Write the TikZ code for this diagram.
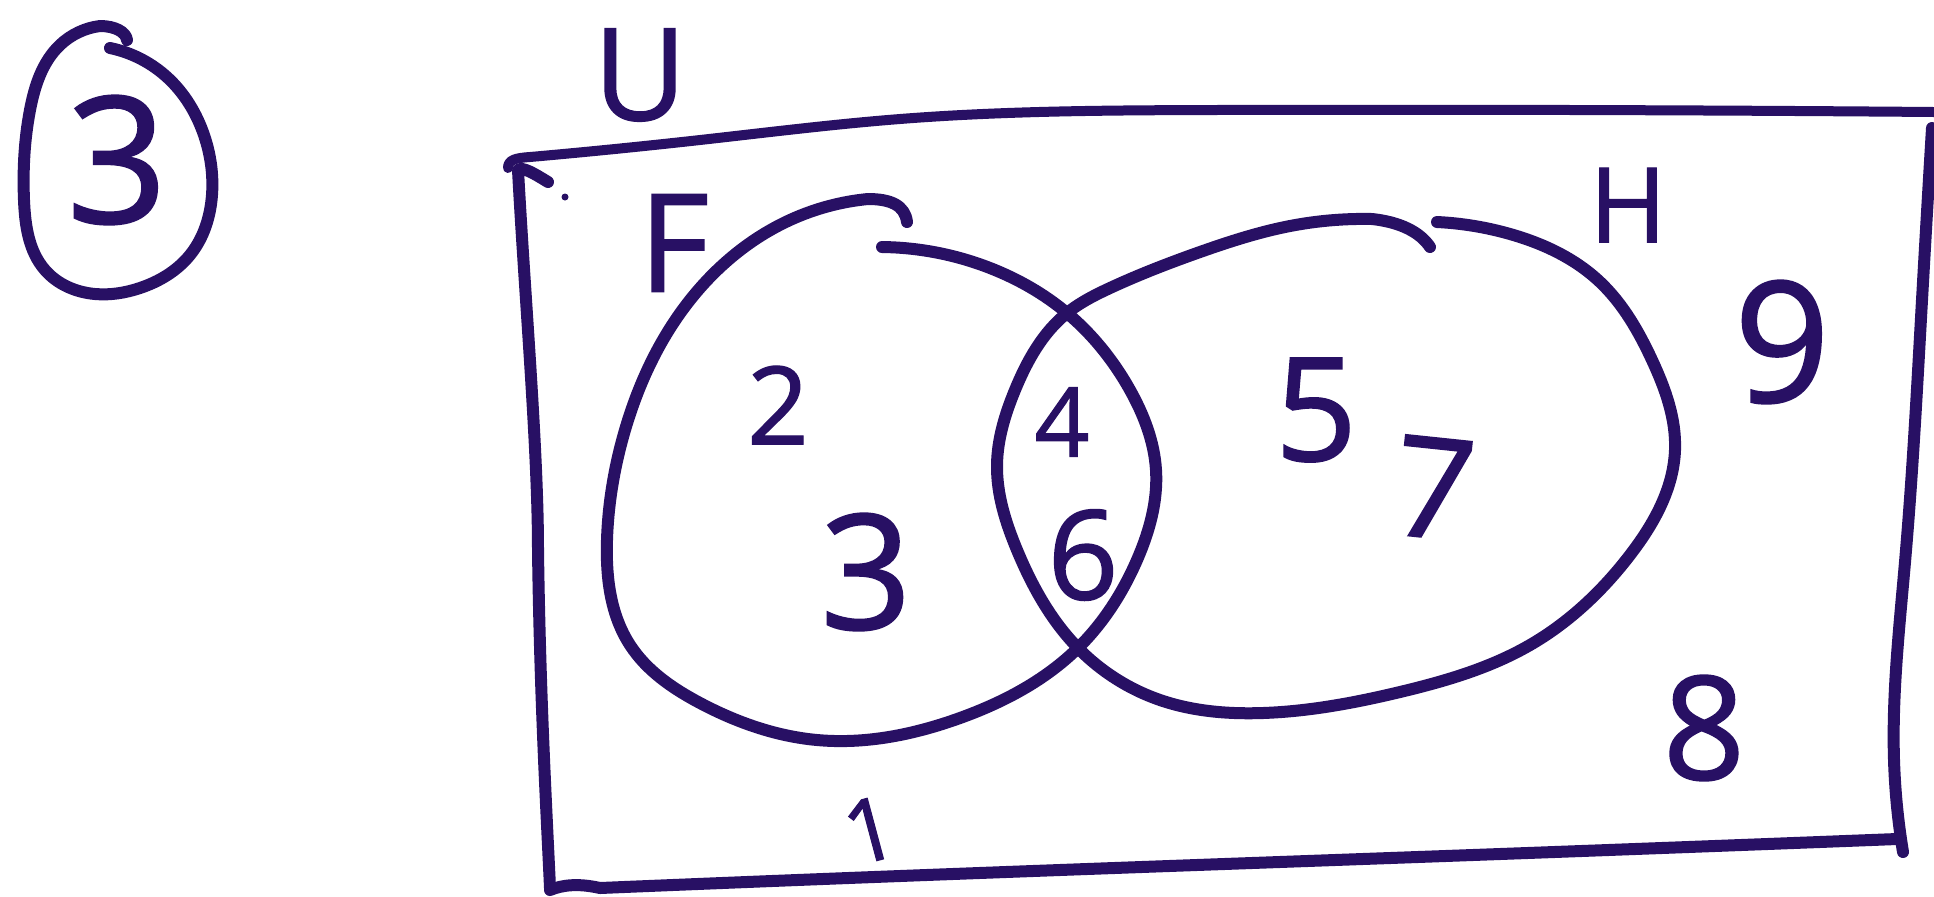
\documentclass[tikz,border=0pt]{standalone}
\usepackage{fontspec}
\setmainfont{Open Sans}
\newfontfamily\handfont{Open Sans}[FakeBold=1.2]
\usetikzlibrary{hobby}
\definecolor{ink}{RGB}{40,16,100}
\newcommand\hsz[1]{\fontsize{#1}{#1}\selectfont}
\begin{document}
\begin{tikzpicture}[x=0.5pt,y=-0.5pt,
  pen/.style={draw=ink,line width=6pt,line cap=round,line join=round},
  lbl/.style={text=ink,inner sep=0pt,anchor=center,font=\handfont}]
\useasboundingbox[fill=white] (0,0) rectangle (1934,896);

% circled problem number
\draw[pen] (110,48) to[curve through={(168,78) .. (204,135) .. (212,195) .. (190,255) .. (140,288) .. (95,294) .. (45,270) .. (24,200) .. (30,110) .. (60,45)}] (100,26) .. controls (115,26) and (126,32) .. (127,40);
\node[lbl] (num) at (117,160) {\hsz{88}3};

% universal set box
\draw[pen,line width=5pt] (508,168) .. controls (508,160) and (515,158) .. (530,157) to[curve through={(700,140) .. (900,119) .. (1214,110)}] (1934,112);
\draw[pen] (548,182) .. controls (535,174) and (522,166) .. (518,170) .. controls (525,300) and (538,450) .. (538,550) .. controls (540,700) and (547,820) .. (550,888);
\draw[pen] (550,890) .. controls (562,885) and (578,883) .. (600,888) to[curve through={(900,876) .. (1500,854)}] (1897,839);
\draw[pen] (1932,128) to[curve through={(1922,300) .. (1905,562) .. (1894,760)}] (1903,852);
\fill[ink] (565,197) circle (3.5);
\node[lbl] (U) at (640,75) {\hsz{64}U};

% set F
\draw[pen] (882,247) to[curve through={(990,268) .. (1067,313) .. (1130,390) .. (1156,470) .. (1137,560) .. (1078,648) .. (960,718) .. (817,740) .. (700,703) .. (630,645) .. (607,540) .. (625,430) .. (690,300) .. (790,220)}] (868,199) .. controls (890,199) and (905,205) .. (907,222);
\node[lbl] (F) at (674,243) {\hsz{68}F};

% set H
\draw[pen] (1430,247) .. controls (1420,232) and (1400,222) .. (1372,219) to[curve through={(1290,226) .. (1200,252) .. (1110,288) .. (1067,313) .. (1015,390) .. (997,465) .. (1017,550) .. (1078,648) .. (1160,700) .. (1263,713) .. (1400,692) .. (1530,645) .. (1630,555) .. (1675,450) .. (1652,360) .. (1600,282) .. (1510,234)}] (1437,222);
\node[lbl] (H) at (1628,205) {\hsz{52}H};

% elements
\node[lbl] (e2) at (778,405) {\hsz{54}2};
\node[lbl] (e3) at (866,572) {\hsz{80}3};
\node[lbl] (e4) at (1062,422) {\hsz{48}4};
\node[lbl] (e6) at (1083,555) {\hsz{62}6};
\node[lbl] (e5) at (1316,410) {\hsz{72}5};
\node[lbl,rotate=-6] (e7) at (1434,488) {\hsz{70}7};
\node[lbl] (e9) at (1782,342) {\hsz{84}9};
\node[lbl] (e8) at (1704,728) {\hsz{72}8};
\node[lbl,rotate=15] (e1) at (870,830) {\hsz{44}1};
\end{tikzpicture}
\end{document}
